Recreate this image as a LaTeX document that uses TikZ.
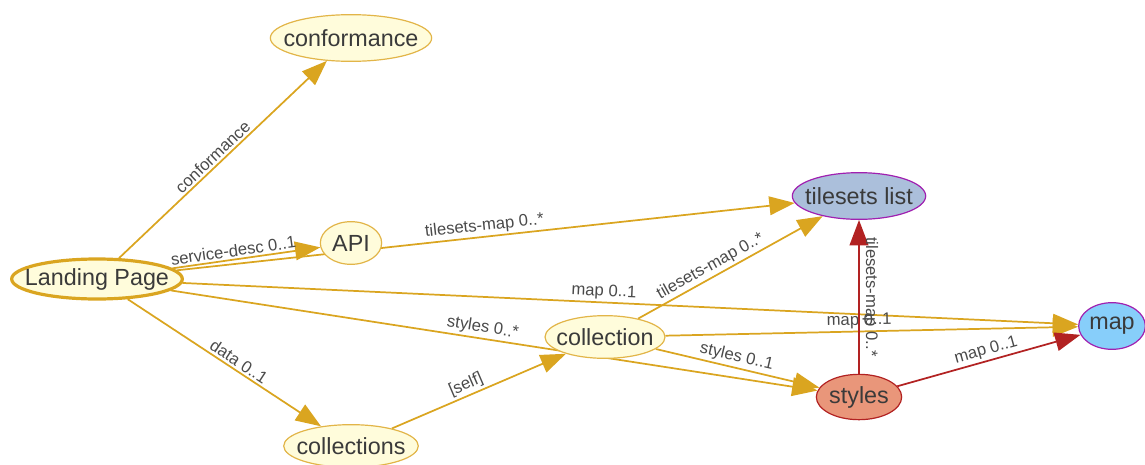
\documentclass[tikz,border=0pt]{standalone}
\usepackage{fontspec}
\setmainfont{Liberation Sans}
\usepackage{xcolor}
\usepackage{tikz}
\usetikzlibrary{shapes.geometric,arrows.meta,positioning,backgrounds}
\definecolor{goldline}{HTML}{DAA520}
\definecolor{goldrim}{HTML}{E2B548}
\definecolor{paleyellow}{HTML}{FFFCDB}
\definecolor{redline}{HTML}{B22222}
\definecolor{salmonfill}{HTML}{E9967A}
\definecolor{steelfill}{HTML}{ABBFDB}
\definecolor{skyfill}{HTML}{87CEFA}
\definecolor{purplerim}{HTML}{A020B0}
\definecolor{inkgray}{HTML}{3A3A3A}
\definecolor{lblgray}{HTML}{4A4A4A}
\newcommand{\nd}[1]{\makebox[0pt]{#1}}
\tikzstyle{resource}=[ellipse, draw=goldrim, fill=paleyellow, line width=0.9pt,
                      inner sep=0pt, text=inkgray,
                      font=\fontsize{17.5}{20}\selectfont]
\tikzstyle{tilesnode}=[resource, draw=purplerim, fill=steelfill]
\tikzstyle{mapnode}  =[resource, draw=purplerim, fill=skyfill]
\tikzstyle{stylenode}=[resource, draw=redline, fill=salmonfill]
\tikzstyle{arr}      =[-{Triangle[length=19pt,width=14pt]}, line width=1.3pt, draw=goldline]
\tikzstyle{redarr}   =[arr, draw=redline]
\tikzstyle{lbl}      =[sloped, above, inner sep=1.5pt, text=lblgray,
                       font=\fontsize{12.5}{14}\selectfont]

\begin{document}
\begin{tikzpicture}[x=0.75pt, y=-0.75pt]
  \useasboundingbox (0,0) rectangle (1145,464);

  % ── nodes ──────────────────────────────────────────────────────────────────
  \node[resource, line width=2.4pt, draw=goldline, minimum width=128pt, minimum height=30pt]
        (landing) at (97, 279)  {\nd{Landing Page}};
  \node[resource, minimum width=121pt, minimum height=35pt]
        (conf)    at (351, 38)  {\nd{conformance}};
  \node[resource, minimum width=46pt, minimum height=32pt]
        (api)     at (351, 243) {\nd{API}};
  \node[resource, minimum width=101pt, minimum height=32pt]
        (colls)   at (351, 446) {\nd{collections}};
  \node[resource, minimum width=90pt, minimum height=32pt]
        (coll)    at (605, 337) {\nd{collection}};
  \node[tilesnode, minimum width=100pt, minimum height=35pt]
        (tiles)   at (859, 196) {\nd{tilesets list}};
  \node[stylenode, minimum width=64pt, minimum height=34pt]
        (styles)  at (859, 397) {\nd{styles}};
  \node[mapnode, minimum width=50pt, minimum height=35pt]
        (map)     at (1112, 326) {\nd{map}};

  % ── links (behind the nodes) ──────────────────────────────────────────────
  \begin{scope}[on background layer]
    \draw[arr] (landing) -- node[lbl, pos=0.48]{conformance} (conf);
    \draw[arr] (landing) -- node[lbl, pos=0.42]{service-desc 0..1} (api);
    \draw[arr] (landing) -- node[lbl, pos=0.5]{tilesets-map 0..*} (tiles);
    \draw[arr] (landing) -- node[lbl, pos=0.47]{map 0..1} (map);
    \draw[arr] (landing) -- node[lbl, pos=0.48]{styles 0..*} (styles);
    \draw[arr] (landing) -- node[lbl, pos=0.55]{data 0..1} (colls);
    \draw[arr] (colls)   -- node[lbl, pos=0.45]{[self]} (coll);
    \draw[arr] (coll)    -- node[lbl, pos=0.42]{tilesets-map 0..*} (tiles);
    \draw[arr] (coll)    -- node[lbl, pos=0.47]{map 0..1} (map);
    \draw[arr] (coll)    -- node[lbl, pos=0.48]{styles 0..1} (styles);

    % red links out of styles
    \draw[redarr] (styles) -- node[pos=0.5, rotate=-90, anchor=south, inner sep=2pt,
                    text=lblgray, font=\fontsize{12.5}{14}\selectfont]{tilesets-map 0..*} (tiles);
    \draw[redarr] (styles) -- node[lbl, pos=0.5]{map 0..1} (map);
  \end{scope}

\end{tikzpicture}
\end{document}
